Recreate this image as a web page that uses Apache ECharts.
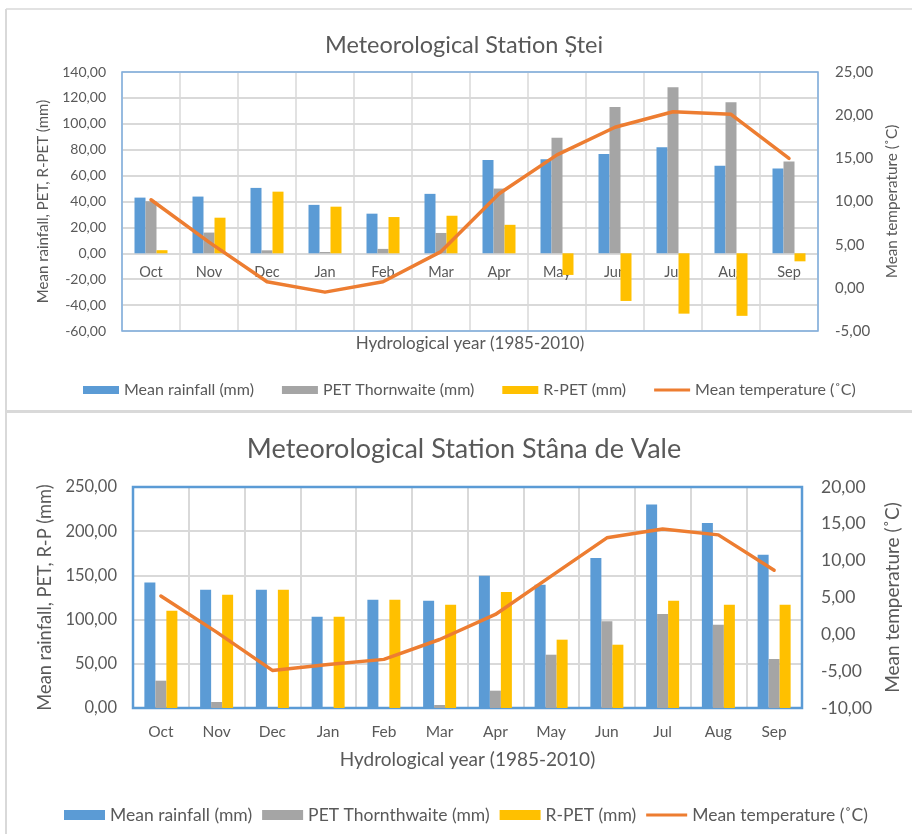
<!DOCTYPE html>
<html>
<head>
<meta charset="utf-8">
<script src="https://cdn.jsdelivr.net/npm/echarts@6/dist/echarts.min.js"></script>
<style>
html,body{margin:0;padding:0;background:#fff;}
#c{width:912px;height:834px;}
</style>
</head>
<body>
<div id="c"></div>
<script>
const months = ['Oct','Nov','Dec','Jan','Feb','Mar','Apr','May','Jun','Jul','Aug','Sep'];

// Meteorological Station Ștei
const steiRain = [43.0, 43.8, 50.5, 37.4, 30.6, 45.9, 72.0, 72.6, 76.7, 81.9, 67.7, 65.4];
const steiPet  = [40.2, 16.0, 2.3, 1.0, 3.4, 15.7, 50.0, 89.3, 113.0, 128.2, 116.6, 70.8];
const steiRpet = [2.4, 27.5, 47.6, 36.0, 28.0, 29.0, 22.0, -16.7, -36.8, -46.6, -48.3, -6.2];
const steiTemp = [10.2, 5.3, 0.7, -0.5, 0.7, 4.2, 10.9, 15.4, 18.6, 20.4, 20.1, 15.0];

// Meteorological Station Stâna de Vale
const staRain = [142.0, 133.8, 133.8, 103.3, 122.5, 121.3, 149.7, 139.5, 169.7, 230.3, 209.3, 173.4];
const staPet  = [30.9, 6.8, 0, 0, 0, 3.4, 19.6, 60.3, 98.0, 106.3, 94.2, 55.4];
const staRpet = [110.0, 128.0, 133.8, 103.3, 122.5, 116.8, 131.2, 77.3, 71.6, 121.4, 116.9, 116.9];
const staTemp = [5.2, 0.3, -4.9, -4.1, -3.4, -0.7, 2.7, 7.9, 13.1, 14.3, 13.5, 8.7];

// axis ranges [min, max, interval]
const topLeftRange = [-60, 140, 20];
const topRightRange = [-5, 25, 5];
const botLeftRange = [0, 250, 50];
const botRightRange = [-10, 20, 5];

const FONT = 'Lato, "Open Sans", sans-serif';
const TXT = '#595959';
const GRIDC = '#D9D9D9';
const fmt = v => v.toFixed(2).replace('.', ',');

const topGrid = { left: 122, top: 72, width: 696, height: 259 };
const botGrid = { left: 133, top: 487, width: 669, height: 221 };
// move top category axis onto the value 0 of the left axis
const topZeroOffset = -((0 - topLeftRange[0]) / (topLeftRange[1] - topLeftRange[0])) * topGrid.height;

const lineIcon = 'path://M0,0 L36,0 M0,2.6 L36,2.6 L36,5.4 L0,5.4 Z M0,8 L36,8';

const chart = echarts.init(document.getElementById('c'));
chart.setOption({
  animation: false,
  backgroundColor: '#fff',
  textStyle: { fontFamily: FONT, color: TXT },
  title: [
    { text: 'Meteorological Station Ștei', left: 459, top: 28, textAlign: 'center',
      textStyle: { fontFamily: FONT, fontSize: 23.5, fontWeight: 'normal', color: TXT } },
    { text: 'Meteorological Station Stâna de Vale', left: 459, top: 431, textAlign: 'center',
      textStyle: { fontFamily: FONT, fontSize: 27, fontWeight: 'normal', color: TXT } }
  ],
  graphic: [
    { type: 'line', shape: { x1: 6, y1: 9, x2: 912, y2: 9 }, style: { stroke: GRIDC, lineWidth: 1.5 }, silent: true },
    { type: 'line', shape: { x1: 6, y1: 9, x2: 6, y2: 834 }, style: { stroke: GRIDC, lineWidth: 2 }, silent: true },
    { type: 'rect', shape: { x: 6, y: 410, width: 906, height: 3 }, style: { fill: GRIDC }, silent: true }
  ],
  legend: [
    { left: 78, top: 377, itemWidth: 36, itemHeight: 8, itemGap: 28,
      textStyle: { fontFamily: FONT, fontSize: 16, color: TXT },
      data: [
        { name: 'Mean rainfall (mm)', icon: 'rect' },
        { name: 'PET Thornwaite (mm)', icon: 'rect' },
        { name: 'R-PET (mm)', icon: 'rect' },
        { name: 'Mean temperature (˚C)', icon: lineIcon }
      ] },
    { left: 59, top: 801, itemWidth: 41, itemHeight: 10, itemGap: 10,
      textStyle: { fontFamily: FONT, fontSize: 17.5, color: TXT },
      data: [
        { name: 'Mean rainfall (mm)', icon: 'rect' },
        { name: 'PET Thornthwaite (mm)', icon: 'rect' },
        { name: 'R-PET (mm)', icon: 'rect' },
        { name: 'Mean temperature (˚C)', icon: lineIcon }
      ] }
  ],
  grid: [
    Object.assign({ show: true, borderColor: '#7FAEE0', borderWidth: 1.5, backgroundColor: 'transparent', z: 1 }, topGrid),
    Object.assign({ show: true, borderColor: '#5B9BD5', borderWidth: 2.5, backgroundColor: 'transparent', z: 1 }, botGrid)
  ],
  xAxis: [
    { type: 'category', gridIndex: 0, data: months, position: 'bottom', offset: topZeroOffset,
      axisLine: { show: true, onZero: false, lineStyle: { color: GRIDC, width: 2 } },
      axisTick: { show: false },
      axisLabel: { fontFamily: FONT, fontSize: 14.5, color: TXT, margin: 12 },
      splitLine: { show: true, lineStyle: { color: GRIDC, width: 1.5 } },
      name: 'Hydrological year (1985-2010)', nameLocation: 'middle', nameGap: 82,
      nameTextStyle: { fontFamily: FONT, fontSize: 17, color: TXT } },
    { type: 'category', gridIndex: 1, data: months,
      axisLine: { show: false, onZero: false },
      axisTick: { show: false },
      axisLabel: { fontFamily: FONT, fontSize: 15.5, color: TXT, margin: 16 },
      splitLine: { show: true, lineStyle: { color: GRIDC, width: 2 } },
      name: 'Hydrological year (1985-2010)', nameLocation: 'middle', nameGap: 42,
      nameTextStyle: { fontFamily: FONT, fontSize: 19, color: TXT } }
  ],
  yAxis: [
    { type: 'value', gridIndex: 0, position: 'left', min: topLeftRange[0], max: topLeftRange[1], interval: topLeftRange[2],
      axisLine: { show: false }, axisTick: { show: false },
      axisLabel: { formatter: fmt, fontFamily: FONT, fontSize: 14, color: TXT, margin: 16 },
      splitLine: { show: true, lineStyle: { color: GRIDC, width: 2 } },
      name: 'Mean rainfall, PET, R-PET (mm)', nameLocation: 'middle', nameGap: 71,
      nameTextStyle: { fontFamily: FONT, fontSize: 15, color: TXT } },
    { type: 'value', gridIndex: 0, position: 'right', min: topRightRange[0], max: topRightRange[1], interval: topRightRange[2],
      axisLine: { show: false }, axisTick: { show: false },
      axisLabel: { formatter: fmt, fontFamily: FONT, fontSize: 15, color: TXT, margin: 17 },
      splitLine: { show: false },
      name: 'Mean temperature (˚C)', nameLocation: 'middle', nameGap: 65,
      nameTextStyle: { fontFamily: FONT, fontSize: 15.3, color: TXT } },
    { type: 'value', gridIndex: 1, position: 'left', min: botLeftRange[0], max: botLeftRange[1], interval: botLeftRange[2],
      axisLine: { show: false }, axisTick: { show: false },
      axisLabel: { formatter: fmt, fontFamily: FONT, fontSize: 16.5, color: TXT, margin: 16 },
      splitLine: { show: true, lineStyle: { color: GRIDC, width: 2 } },
      name: 'Mean rainfall, PET, R-P (mm)', nameLocation: 'middle', nameGap: 77,
      nameTextStyle: { fontFamily: FONT, fontSize: 18.3, color: TXT } },
    { type: 'value', gridIndex: 1, position: 'right', min: botRightRange[0], max: botRightRange[1], interval: botRightRange[2],
      axisLine: { show: false }, axisTick: { show: false },
      axisLabel: { formatter: fmt, fontFamily: FONT, fontSize: 17.5, color: TXT, margin: 19 },
      splitLine: { show: false },
      name: 'Mean temperature (˚C)', nameLocation: 'middle', nameGap: 70,
      nameTextStyle: { fontFamily: FONT, fontSize: 19, color: TXT } }
  ],
  series: [
    { name: 'Mean rainfall (mm)', type: 'bar', xAxisIndex: 0, yAxisIndex: 0, data: steiRain,
      barWidth: 11, barGap: '0%', itemStyle: { color: '#5B9BD5' } },
    { name: 'PET Thornwaite (mm)', type: 'bar', xAxisIndex: 0, yAxisIndex: 0, data: steiPet,
      barWidth: 11, barGap: '0%', itemStyle: { color: '#A5A5A5' } },
    { name: 'R-PET (mm)', type: 'bar', xAxisIndex: 0, yAxisIndex: 0, data: steiRpet,
      barWidth: 11, barGap: '0%', itemStyle: { color: '#FFC000' } },
    { name: 'Mean temperature (˚C)', type: 'line', xAxisIndex: 0, yAxisIndex: 1, data: steiTemp,
      symbol: 'none', lineStyle: { color: '#ED7D31', width: 3.5, cap: 'round', join: 'round' },
      itemStyle: { color: '#ED7D31' }, z: 5 },
    { name: 'Mean rainfall (mm)', type: 'bar', xAxisIndex: 1, yAxisIndex: 2, data: staRain,
      barWidth: 11, barGap: '0%', itemStyle: { color: '#5B9BD5' } },
    { name: 'PET Thornthwaite (mm)', type: 'bar', xAxisIndex: 1, yAxisIndex: 2, data: staPet,
      barWidth: 11, barGap: '0%', itemStyle: { color: '#A5A5A5' } },
    { name: 'R-PET (mm)', type: 'bar', xAxisIndex: 1, yAxisIndex: 2, data: staRpet,
      barWidth: 11, barGap: '0%', itemStyle: { color: '#FFC000' } },
    { name: 'Mean temperature (˚C)', type: 'line', xAxisIndex: 1, yAxisIndex: 3, data: staTemp,
      symbol: 'none', lineStyle: { color: '#ED7D31', width: 3.5, cap: 'round', join: 'round' },
      itemStyle: { color: '#ED7D31' }, z: 5 }
  ]
});
</script>
</body>
</html>
